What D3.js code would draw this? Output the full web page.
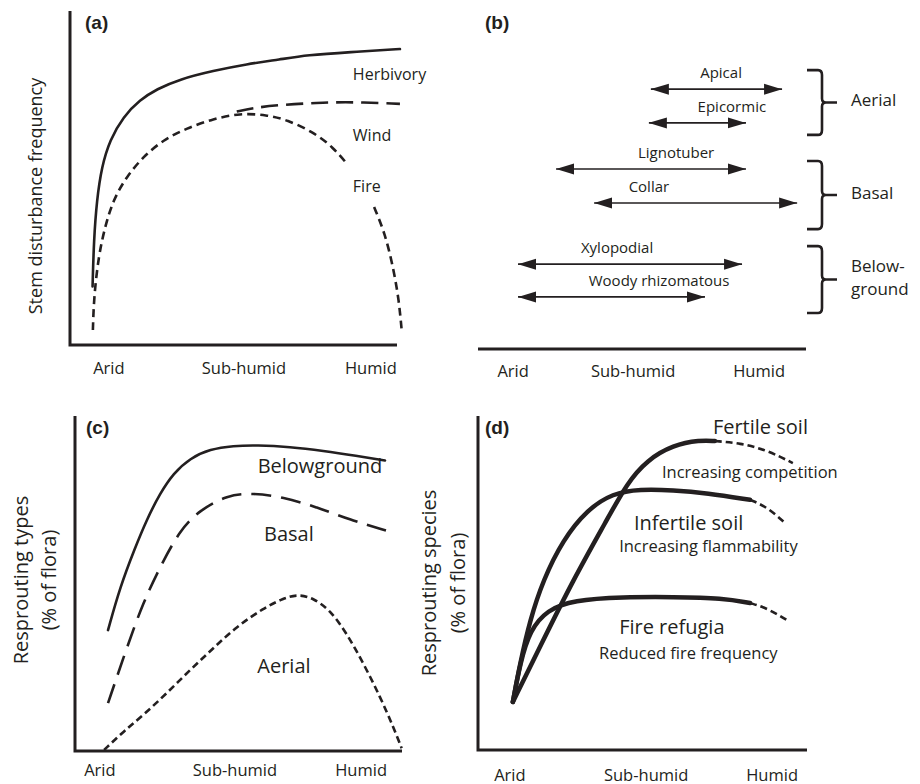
<!DOCTYPE html>
<html>
<head>
<meta charset="utf-8">
<script src="https://cdn.jsdelivr.net/npm/d3@7"></script>
<style>
  body { margin: 0; background: #fff; }
  text { font-family: "Open Sans", sans-serif; fill: #231f20; }
  .plabel { font-family: "Liberation Sans", Arial, sans-serif; font-weight: bold; font-size: 19px; }
</style>
</head>
<body>
<script>
// ---- data (x and y in 0-100 units of each panel) ----
const TICKS = ["Arid", "Sub-humid", "Humid"];
const tickPosA = [11.9, 53.2, 92.0];
const tickPosB = [10.7, 47.3, 85.7];
const tickPosC = [7.6, 48.9, 87.5];
const tickPosD = [9.7, 51.1, 89.4];

// (a) stem disturbance
const herbivory = [[6.9,17.5],[7.3,31.4],[8.2,43.4],[9.7,53.4],[12.2,61.4],[16.3,68.4],[21.4,73.4],[26.5,76.6],[33.6,79.6],[43.8,82.1],[54.0,84.1],[64.2,85.5],[72.5,86.8],[85.6,87.7],[100.9,88.6]];
const wind = [[51.0,69.9],[56.0,71.0],[64.2,71.9],[75.5,72.5],[85.6,72.8],[100.9,72.2]];
const fire = [[7.0,4.5],[7.3,14.0],[8.7,26.4],[10.7,35.4],[13.2,43.4],[17.3,50.4],[22.4,56.4],[28.5,61.4],[35.7,64.9],[43.8,67.7],[52.0,69.4],[60.2,68.9],[66.4,67.4],[74.3,63.8],[80.4,59.3],[85.0,53.9]];
const fireTail = [[93.0,41.3],[96.3,33.5],[98.8,23.4],[100.6,13.5],[101.5,3.6]];
const labelsA = [["Herbivory",86.5,81.1],["Wind",86.5,62.9],["Fire",86.5,47.6]];

// (b) resprouting bud ranges
const budNames = ["Apical","Epicormic","Lignotuber","Collar","Xylopodial","Woody rhizomatous"];
const budFrom  = [52.7, 52.1, 23.8, 35.4, 12.2, 12.2];
const budTo    = [92.7, 81.7, 81.7, 97.3, 80.5, 69.2];
const budLevel = [77.8, 67.7, 53.9, 43.7, 25.4, 15.6];
const budLabelX = [74.1, 77.4, 60.4, 52.1, 42.4, 55.2];
const groupNames = [["Aerial"],["Basal"],["Below-","ground"]];
const groupTop    = [83.5, 56.3, 30.8];
const groupBottom = [64.1, 35.9, 10.8];

// (c) resprouting types
const belowground = [[10.1,36.1],[13.8,49.0],[18.3,60.5],[21.9,69.0],[26.0,76.9],[30.1,82.9],[35.2,87.4],[41.3,90.1],[48.4,91.1],[55.6,91.3],[65.7,90.8],[75.9,89.6],[86.1,88.1],[94.8,86.7]];
const basal = [[10.1,14.3],[15.9,31.0],[20.8,44.2],[26.0,54.9],[32.1,66.0],[38.2,71.9],[46.5,76.4],[54.4,77.0],[63.6,75.8],[74.0,72.8],[84.1,69.0],[95.4,65.7]];
const aerial = [[8.9,0.3],[14.8,5.8],[20.9,10.7],[28.0,17.2],[35.2,24.2],[42.3,30.7],[49.4,37.1],[57.6,42.6],[63.7,45.6],[68.3,46.8],[72.9,45.6],[78.0,42.1],[83.1,35.1],[88.2,26.2],[93.3,16.2],[97.3,7.3],[99.9,0.8]];
const labelsC = [["Belowground",74.9,85.1],["Basal",65.4,64.8],["Aerial",63.9,25.4]];

// (d) resprouting species
const fertile = [[10.6,14.4],[18.8,30.8],[28.9,50.9],[39.2,68.9],[45.3,79.9],[51.4,86.8],[59.3,91.3],[67.5,92.8],[72.0,92.5]];
const fertileTail = [[72.0,92.5],[79.6,91.9],[87.8,89.8],[95.7,85.9]];
const infertile = [[10.6,14.4],[12.8,26.0],[15.8,38.9],[19.8,50.9],[25.8,62.9],[33.1,71.9],[41.0,76.9],[49.2,78.1],[59.3,77.8],[69.6,76.9],[82.7,74.9]];
const infertileTail = [[82.7,74.9],[87.8,72.8],[93.3,68.0]];
const refugia = [[10.6,14.4],[12.8,26.0],[15.8,35.9],[21.0,41.9],[28.9,44.9],[44.1,45.8],[59.3,45.8],[74.5,45.5],[82.7,44.0]];
const refugiaTail = [[82.7,44.0],[87.8,42.5],[93.9,38.9]];
const labelsD = [["Fertile soil",71.4,97.0,20],["Increasing competition",55.9,83.5,16.5],["Infertile soil",47.4,68.0,20],["Increasing flammability",42.9,61.1,16.5],["Fire refugia",42.9,37.1,20],["Reduced fire frequency",36.8,29.3,16.5]];

// ---- drawing ----
const W = 920, H = 784;
const svg = d3.select("body").append("svg").attr("width", W).attr("height", H);

const ink = "#231f20";
const panels = {
    a: { left: 70, right: 397, top: 11, bottom: 345 },
    b: { left: 478, right: 806, top: 15, bottom: 349 },
    c: { left: 75, right: 402, top: 416, bottom: 751 },
    d: { left: 478, right: 807, top: 416, bottom: 750 },
};
for (const k in panels) {
    const f = panels[k];
    f.x = d3.scaleLinear().domain([0, 100]).range([f.left, f.right]);
    f.y = d3.scaleLinear().domain([0, 100]).range([f.bottom, f.top]);
    f.g = svg.append("g").attr("class", "panel-" + k);
}

const lineGen = (f) => d3.line().x((d) => f.x(d[0])).y((d) => f.y(d[1])).curve(d3.curveBasis);

function curve(f, pts, width, dash) {
    f.g.append("path")
        .attr("d", lineGen(f)(pts))
        .attr("fill", "none")
        .attr("stroke", ink)
        .attr("stroke-width", width)
        .attr("stroke-dasharray", dash || null)
        .attr("stroke-linecap", dash ? "butt" : "round");
}

function axes(f, withY) {
    const p = withY
        ? `M${f.left},${f.top} V${f.bottom} H${f.right}`
        : `M${f.left},${f.bottom} H${f.right}`;
    f.g.append("path").attr("d", p).attr("fill", "none").attr("stroke", ink).attr("stroke-width", 3);
}

function ticks(f, pos, dy) {
    f.g.selectAll("text.tick")
        .data(TICKS)
        .enter()
        .append("text")
        .attr("class", "tick")
        .attr("x", (d, i) => f.x(pos[i]))
        .attr("y", f.bottom + dy)
        .attr("text-anchor", "middle")
        .attr("dominant-baseline", "central")
        .attr("font-size", 16.5)
        .text((d) => d);
}

function yTitle(f, lines, offsets, cy, size) {
    lines.forEach((t, i) => {
        f.g.append("text")
            .attr("transform", `translate(${f.left - offsets[i]},${cy}) rotate(-90)`)
            .attr("text-anchor", "middle")
            .attr("dominant-baseline", "central")
            .attr("font-size", size)
            .text(t);
    });
}

function panelLabel(f, t, x, y) {
    f.g.append("text").attr("class", "plabel").attr("x", x).attr("y", y)
        .attr("dominant-baseline", "central").text(t);
}

// panel (a)
{
    const f = panels.a;
    axes(f, true);
    curve(f, herbivory, 2.6);
    curve(f, wind, 2.6, "17 8");
    curve(f, fire, 2.6, "8 5");
    curve(f, fireTail, 2.6, "8 5");
    labelsA.forEach(([t, x, y]) => {
        f.g.append("text").attr("x", f.x(x)).attr("y", f.y(y))
            .attr("dominant-baseline", "central").attr("font-size", 16).text(t);
    });
    ticks(f, tickPosA, 22);
    yTitle(f, ["Stem disturbance frequency"], [35], 196, 18);
    panelLabel(f, "(a)", 85, 22);
}

// panel (b)
{
    const f = panels.b;
    axes(f, false);
    const defs = svg.append("defs");
    defs.append("marker")
        .attr("id", "head")
        .attr("viewBox", "0 0 18 12")
        .attr("refX", 18).attr("refY", 6)
        .attr("markerWidth", 18).attr("markerHeight", 12)
        .attr("markerUnits", "userSpaceOnUse")
        .attr("orient", "auto-start-reverse")
        .append("path").attr("d", "M0,0.5 L18,6 L0,11.5 Z").attr("fill", ink);

    budNames.forEach((name, i) => {
        const yy = f.y(budLevel[i]);
        f.g.append("line")
            .attr("x1", f.x(budFrom[i])).attr("x2", f.x(budTo[i]))
            .attr("y1", yy).attr("y2", yy)
            .attr("stroke", ink).attr("stroke-width", 1.6)
            .attr("marker-start", "url(#head)").attr("marker-end", "url(#head)");
        f.g.append("text")
            .attr("x", f.x(budLabelX[i])).attr("y", yy - 17)
            .attr("text-anchor", "middle").attr("dominant-baseline", "central")
            .attr("font-size", 15).text(name);
    });

    const bx = f.right + 1, bw = 30;
    groupNames.forEach((lines, i) => {
        const t = f.y(groupTop[i]), b = f.y(groupBottom[i]), m = (t + b) / 2;
        const xm = bx + 15;
        const p = `M${bx},${t} H${xm - 4} Q${xm},${t} ${xm},${t + 5} V${m - 4} Q${xm},${m} ${xm + 4},${m} H${bx + bw}` +
                  ` M${xm + 4},${m} Q${xm},${m} ${xm},${m + 4} V${b - 5} Q${xm},${b} ${xm - 4},${b} H${bx}`;
        f.g.append("path").attr("d", p).attr("fill", "none").attr("stroke", ink).attr("stroke-width", 2.6);
        lines.forEach((ln, j) => {
            f.g.append("text")
                .attr("x", bx + 44)
                .attr("y", m - 3 + (j - (lines.length - 1) / 2) * 23)
                .attr("dominant-baseline", "central")
                .attr("font-size", 17).text(ln);
        });
    });
    ticks(f, tickPosB, 21);
    panelLabel(f, "(b)", 485, 22);
}

// panel (c)
{
    const f = panels.c;
    axes(f, true);
    curve(f, belowground, 2.6);
    curve(f, basal, 2.6, "20 10");
    curve(f, aerial, 2.6, "7 4");
    labelsC.forEach(([t, x, y]) => {
        f.g.append("text").attr("x", f.x(x)).attr("y", f.y(y))
            .attr("text-anchor", "middle").attr("dominant-baseline", "central")
            .attr("font-size", 20).text(t);
    });
    ticks(f, tickPosC, 18);
    yTitle(f, ["Resprouting types", "(% of  flora)"], [55, 27], 580, 20);
    panelLabel(f, "(c)", 86, 427);
}

// panel (d)
{
    const f = panels.d;
    axes(f, true);
    curve(f, fertile, 4.5);
    curve(f, infertile, 4.5);
    curve(f, refugia, 4.5);
    curve(f, fertileTail, 2.6, "7 4");
    curve(f, infertileTail, 2.6, "7 4");
    curve(f, refugiaTail, 2.6, "7 4");
    labelsD.forEach(([t, x, y, s]) => {
        f.g.append("text").attr("x", f.x(x)).attr("y", f.y(y))
            .attr("dominant-baseline", "central").attr("font-size", s).text(t);
    });
    ticks(f, tickPosD, 24);
    yTitle(f, ["Resprouting species", "(% of  flora)"], [50, 21], 583, 20);
    panelLabel(f, "(d)", 485, 427);
}
</script>
</body>
</html>
